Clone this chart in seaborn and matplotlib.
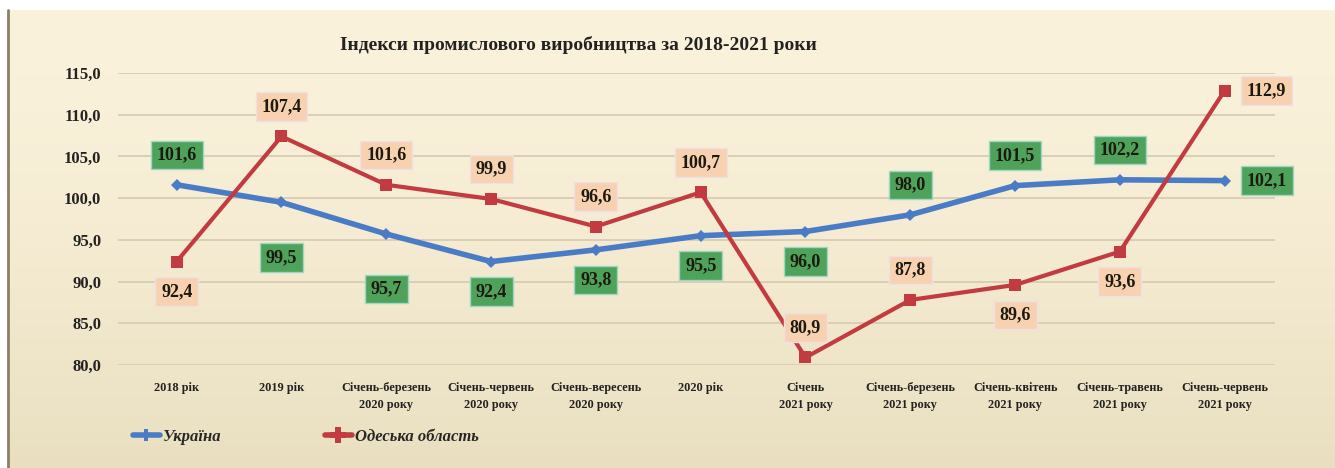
import matplotlib
matplotlib.use("Agg")
import matplotlib.pyplot as plt
from matplotlib.lines import Line2D
import numpy as np
import pandas as pd
import seaborn as sns

periods = ["2018 рік", "2019 рік", "Січень-березень\n2020 року", "Січень-червень\n2020 року",
           "Січень-вересень\n2020 року", "2020 рік", "Січень\n2021 року", "Січень-березень\n2021 року",
           "Січень-квітень\n2021 року", "Січень-травень\n2021 року", "Січень-червень\n2021 року"]
ukraine = [101.6, 99.5, 95.7, 92.4, 93.8, 95.5, 96.0, 98.0, 101.5, 102.2, 102.1]
odesa = [92.4, 107.4, 101.6, 99.9, 96.6, 100.7, 80.9, 87.8, 89.6, 93.6, 112.9]
# where the value label sits: 'a' above, 'b' below, 'bb' further below, 'r' right
ukraine_pos = ["a", "bb", "bb", "b", "b", "b", "b", "a", "a", "a", "r"]
odesa_pos = ["b", "a", "a", "a", "a", "a", "a", "a", "b", "b", "r"]
yticks = [80, 85, 90, 95, 100, 105, 110, 115]

sns.set_style("white")
plt.rcParams['font.family'] = ['Liberation Serif', 'DejaVu Serif']

blue = "#4a7bc6"
red = "#c23b40"

df = pd.DataFrame({
    "pos": list(range(len(periods))) * 2,
    "value": ukraine + odesa,
    "series": ["Україна"] * len(periods) + ["Одеська область"] * len(periods),
})

fig = plt.figure(figsize=(13.35, 4.68), dpi=100)
fig.patch.set_facecolor("white")

# beige panel with a soft vertical gradient
bg = fig.add_axes([8 / 1335, 0, 1 - 8 / 1335, 1 - 10 / 468], zorder=-5)
grad = np.linspace(0, 1, 256).reshape(-1, 1)
c_top = np.array([251, 242, 220]) / 255
c_bot = np.array([233, 223, 192]) / 255
img = c_top + (c_bot - c_top) * grad[..., None] ** 1.5
bg.imshow(img, aspect="auto", extent=[0, 1, 0, 1])
bg.set_axis_off()
fig.add_artist(Line2D([7.5 / 1335, 7.5 / 1335], [0, 1 - 10 / 468], color="#8c7f68", lw=2))

ax = fig.add_axes([118 / 1335, 1 - 365 / 468, (1275 - 118) / 1335, (365 - 73) / 468])
ax.patch.set_alpha(0)

sns.lineplot(data=df, x="pos", y="value", hue="series", style="series",
             palette={"Україна": blue, "Одеська область": red},
             markers={"Україна": "D", "Одеська область": "s"},
             dashes=False, sort=False, ax=ax, legend=False, zorder=3)
lw = {"Україна": 4, "Одеська область": 3}
ms = {"Україна": 6, "Одеська область": 9}
for line, name in zip(ax.lines, ["Україна", "Одеська область"]):
    line.set_linewidth(lw[name])
    line.set_markersize(ms[name])
    line.set_markeredgewidth(0)

ax.set_ylim(80, 115)
ax.set_xlim(-0.56, 10.48)
ax.set_yticks(yticks)
ax.set_yticklabels([f"{v:.1f}".replace(".", ",") for v in yticks],
                   fontsize=12, fontweight="bold", color="#222222")
ax.set_xticks(range(len(periods)))
ax.set_xticklabels(periods, fontsize=8.8, fontweight="bold", color="#222222", linespacing=1.6)
ax.tick_params(axis="both", length=0)
ax.tick_params(axis="x", pad=12)
ax.tick_params(axis="y", pad=12)
ax.yaxis.grid(True, color="#d6cdb4", lw=1.3)
ax.xaxis.grid(False)
for s in ax.spines.values():
    s.set_visible(False)
ax.set_xlabel("")
ax.set_ylabel("")

offsets = {"a": (0, 30), "b": (0, -30), "bb": (0, -55), "r": (42, 0)}


def put_labels(values, where, face, edge):
    for i, (v, w) in enumerate(zip(values, where)):
        ax.annotate(f"{v:.1f}".replace(".", ","), (i, v), xytext=offsets[w],
                    textcoords="offset pixels", ha="center", va="center",
                    fontsize=13, fontweight="bold", color="#1c1a10", zorder=5,
                    bbox=dict(boxstyle="square,pad=0.32", fc=face, ec=edge, lw=1))


put_labels(ukraine, ukraine_pos, "#4fa25a", "#9fd6c8")
put_labels(odesa, odesa_pos, "#f8d2b0", "#f0dfe6")

fig.text(578 / 1335, 1 - 45 / 468, "Індекси промислового виробництва за 2018-2021 роки",
         ha="center", va="center", fontsize=14, fontweight="bold", color="#222222")

handles = [Line2D([], [], color=blue, lw=4, marker="P", ms=8, mew=0),
           Line2D([], [], color=red, lw=4, marker="P", ms=11, mew=0)]
fig.legend(handles, ["Україна", "Одеська область"], loc="center left",
           bbox_to_anchor=(118 / 1335, 1 - 437 / 468), ncol=2, frameon=False,
           handlelength=1.6, handletextpad=0.2, columnspacing=6.2,
           prop={"family": "Liberation Serif", "style": "italic", "weight": "bold", "size": 12})

fig.savefig("out.png", dpi=100)
